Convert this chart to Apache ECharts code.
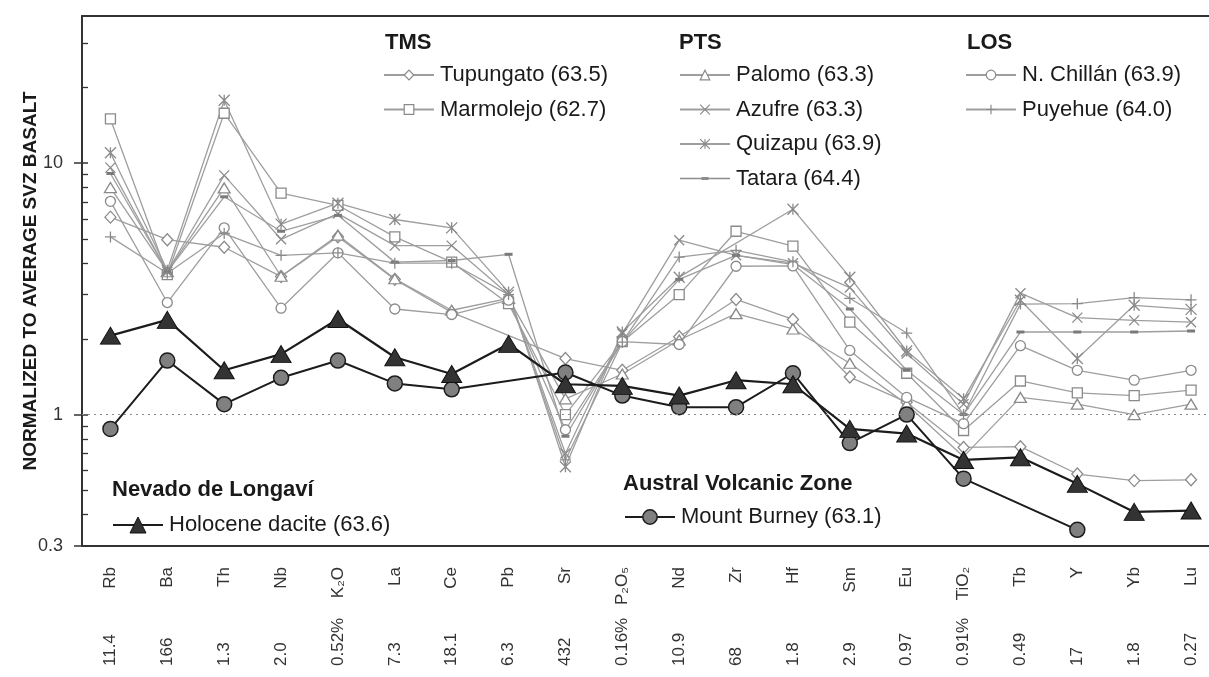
<!DOCTYPE html>
<html><head><meta charset="utf-8">
<script src="https://cdn.jsdelivr.net/npm/echarts@6/dist/echarts.min.js"></script>
<style>html,body{margin:0;padding:0;background:#fff}#c{width:1209px;height:677px}</style>
</head><body><div id="c"></div>
<script>
// ---------- data ----------
const categories = ['Rb','Ba','Th','Nb','K₂O','La','Ce','Pb','Sr','P₂O₅','Nd','Zr','Hf','Sm','Eu','TiO₂','Tb','Y','Yb','Lu'];
const basaltValues = ['11.4','166','1.3','2.0','0.52%','7.3','18.1','6.3','432','0.16%','10.9','68','1.8','2.9','0.97','0.91%','0.49','17','1.8','0.27'];
const yMin = 0.3, yMax = 38.5, refLine = 1;

const tupungato = [6.1, 4.96, 4.63, 3.54, 5.1, 3.45, 2.55, null, 1.67, 1.5, 2.04, 2.87, 2.39, 1.41, 1.12, 0.74, 0.745, 0.58, 0.546, 0.55];
const marmolejo = [15.0, 3.6, 15.8, 7.6, 6.8, 5.09, 4.04, 2.76, 1.0, 1.95, 3.0, 5.36, 4.68, 2.33, 1.46, 0.864, 1.36, 1.22, 1.19, 1.25];
const palomo    = [8.0, 3.7, 7.97, 3.55, 5.17, 3.47, 2.6, 2.9, 1.155, 1.45, 1.98, 2.52, 2.19, 1.6, 1.1, 0.68, 1.17, 1.10, 1.0, 1.1];
const azufre    = [9.6, 3.7, 8.94, 4.98, 6.3, 4.7, 4.7, 3.0, 0.70, 2.1, 4.94, 4.3, 4.0, 3.2, 1.75, 1.1, 3.04, 2.43, 2.37, 2.33];
const quizapu   = [11.0, 3.75, 17.8, 5.72, 6.93, 5.97, 5.53, 3.07, 0.62, 2.13, 3.52, null, 6.56, 3.52, 1.79, 1.155, 2.85, 1.67, 2.72, 2.62];
const tatara    = [9.1, 3.7, 7.35, 5.36, 6.2, 4.04, 4.1, 4.34, 0.82, 1.95, 3.45, 4.3, 3.95, 2.63, 1.5, 1.0, 2.13, 2.13, 2.13, 2.15];
const chillan   = [7.05, 2.79, 5.53, 2.65, 4.4, 2.63, 2.5, 2.85, 0.87, 1.95, 1.9, 3.89, 3.9, 1.80, 1.17, 0.92, 1.88, 1.50, 1.37, 1.5];
const puyehue   = [5.09, 3.65, 5.25, 4.3, 4.4, 4.0, 4.0, 3.0, 0.66, 1.94, 4.23, 4.5, 4.05, 2.9, 2.11, 1.0, 2.75, 2.76, 2.92, 2.86];
const holocene  = [2.06, 2.38, 1.50, 1.74, 2.40, 1.69, 1.45, 1.91, 1.32, 1.30, 1.19, 1.37, 1.32, 0.877, 0.84, 0.66, 0.676, 0.53, 0.41, 0.415];
const burney    = [0.877, 1.64, 1.10, 1.40, 1.64, 1.33, 1.26, null, 1.47, 1.19, 1.07, 1.07, 1.46, 0.77, 1.0, 0.556, null, 0.348, null, null];

// ---------- styles ----------
const FONT = 'Liberation Sans, Arial, sans-serif';
const GRAY = '#9e9e9e', MK = '#8a8a8a';
const SYM_X = 'path://M0,0L10,10M10,0L0,10';
const SYM_AST = 'path://M0,0L10,10M10,0L0,10M5,0L5,10';
const SYM_PLUS = 'path://M5,0L5,10M0,5L10,5';
const SYM_DASH = 'path://M0,0L10,0L10,3L0,3Z';
const ICON_DASH_LINE = 'path://M0,0M50,12M0,5.35L50,5.35L50,6.65L0,6.65ZM21.5,4.6L28.5,4.6L28.5,7.4L21.5,7.4Z';

function gray(name, data, symbol, size, filled) {
  return {
    name, type: 'line', data, symbol, symbolSize: size, connectNulls: true,
    lineStyle: { color: GRAY, width: 1.3 },
    itemStyle: { color: filled ? '#7a7a7a' : '#fff', borderColor: MK, borderWidth: filled ? 0 : 1.3 },
    z: 2, animation: false, emphasis: { disabled: true }
  };
}

const series = [
  Object.assign(gray('Tupungato (63.5)', tupungato, 'diamond', [11, 12]), {
    markLine: { silent: true, symbol: 'none', label: { show: false },
      lineStyle: { color: '#8a8a8a', type: [2, 4], width: 1.2 },
      data: [{ yAxis: refLine }] }
  }),
  gray('Marmolejo (62.7)', marmolejo, 'rect', 10),
  gray('Palomo (63.3)', palomo, 'triangle', [12, 10]),
  gray('Azufre (63.3)', azufre, SYM_X, 10),
  gray('Quizapu (63.9)', quizapu, SYM_AST, 11),
  gray('Tatara (64.4)', tatara, SYM_DASH, [8, 3], true),
  gray('N. Chillán (63.9)', chillan, 'circle', 10),
  gray('Puyehue (64.0)', puyehue, SYM_PLUS, 11),
  {
    name: 'Mount Burney (63.1)', type: 'line', data: burney, connectNulls: true,
    symbol: 'circle', symbolSize: 15,
    lineStyle: { color: '#1c1c1c', width: 2 },
    itemStyle: { color: '#808080', borderColor: '#1c1c1c', borderWidth: 1.5 },
    z: 4, animation: false
  },
  {
    name: 'Holocene dacite (63.6)', type: 'line', data: holocene,
    symbol: 'triangle', symbolSize: [20, 17],
    lineStyle: { color: '#1c1c1c', width: 2.2 },
    itemStyle: { color: '#333', borderColor: '#111', borderWidth: 1 },
    z: 5, animation: false
  }
];

function legend(names, left, top, itemHeight, bw) {
  return {
    data: names, orient: 'vertical', left, top, padding: 0, itemGap: 12.5,
    itemWidth: 50, itemHeight, selectedMode: false,
    itemStyle: { borderWidth: bw },
    textStyle: { fontSize: 22, color: '#1a1a1a', fontFamily: FONT, padding: [0, 0, 0, 1] }
  };
}

function title(text, x, y) {
  return { type: 'text', x, y, z: 50,
    style: { text, fontSize: 22, fontWeight: 'bold', fontFamily: FONT, fill: '#1a1a1a', verticalAlign: 'middle' } };
}

const option = {
  backgroundColor: '#fff',
  animation: false,
  grid: { left: 82, right: -10.5, top: 16, bottom: 131, outerBoundsMode: 'none' },
  xAxis: [
    { type: 'category', data: categories, position: 'bottom', boundaryGap: true,
      axisLine: { lineStyle: { color: '#333', width: 2 } },
      axisTick: { length: 7, lineStyle: { color: '#333', width: 1.5 } },
      axisLabel: { interval: 0, rotate: 90, margin: 21, fontSize: 17, color: '#333', fontFamily: FONT } },
    { type: 'category', data: categories, position: 'bottom', boundaryGap: true,
      axisLine: { show: false }, axisTick: { show: false },
      axisLabel: { interval: 0, rotate: 90, align: 'left', margin: 120, fontSize: 17, color: '#333', fontFamily: FONT,
        formatter: (v, i) => basaltValues[i] } },
    { type: 'category', data: categories, position: 'top', boundaryGap: true,
      axisLine: { lineStyle: { color: '#333', width: 2 } }, axisTick: { show: false }, axisLabel: { show: false } }
  ],
  yAxis: [
    { type: 'log', logBase: 10, min: yMin, max: yMax, position: 'left',
      name: 'NORMALIZED TO AVERAGE SVZ BASALT', nameLocation: 'middle', nameGap: 42, nameMoveOverlap: false,
      nameTextStyle: { fontSize: 19, fontWeight: 'bold', color: '#1a1a1a', fontFamily: FONT },
      axisLine: { show: true, lineStyle: { color: '#333', width: 2 } },
      axisTick: { show: true, length: 8, lineStyle: { color: '#333', width: 1.5 } },
      axisLabel: { fontSize: 18, color: '#333', margin: 19, fontFamily: FONT, showMaxLabel: false },
      splitLine: { show: false } },
    { type: 'log', logBase: 10, min: yMin, max: yMax, position: 'left',
      axisLine: { show: false },
      axisTick: { show: true, inside: true, length: 6, lineStyle: { color: '#333', width: 1.5 } },
      minorTick: { show: true, splitNumber: 9, length: 6, lineStyle: { color: '#333', width: 1.3 } },
      axisLabel: { show: false }, splitLine: { show: false } }
  ],
  legend: [
    legend(['Tupungato (63.5)', 'Marmolejo (62.7)'], 383, 64, 12, 1.2),
    legend(['Palomo (63.3)', 'Azufre (63.3)', 'Quizapu (63.9)',
      { name: 'Tatara (64.4)', icon: ICON_DASH_LINE, itemStyle: { color: '#8c8c8c', borderWidth: 0 } }], 679, 64, 12, 1.2),
    legend(['N. Chillán (63.9)', 'Puyehue (64.0)'], 965, 64, 12, 1.2),
    legend(['Holocene dacite (63.6)'], 112, 514, 20, 1),
    legend(['Mount Burney (63.1)'], 624, 506, 18, 1.5)
  ],
  graphic: [
    title('TMS', 385, 43),
    title('PTS', 679, 43),
    title('LOS', 967, 43),
    title('Nevado de Longaví', 112, 490),
    title('Austral Volcanic Zone', 623, 484)
  ],
  series
};

const chart = echarts.init(document.getElementById('c'), null, { renderer: 'canvas' });
chart.setOption(option);
</script></body></html>
